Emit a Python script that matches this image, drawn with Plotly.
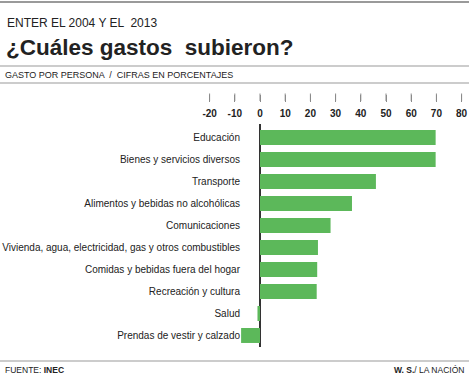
import plotly.graph_objects as go

categories = [
    "Educación",
    "Bienes y servicios diversos",
    "Transporte",
    "Alimentos y bebidas no alcohólicas",
    "Comunicaciones",
    "Vivienda, agua, electricidad, gas y otros combustibles",
    "Comidas y bebidas fuera del hogar",
    "Recreación y cultura",
    "Salud",
    "Prendas de vestir y calzado",
]
values = [69.7, 69.7, 46.0, 36.5, 28.0, 23.0, 22.7, 22.5, -1.0, -7.5]
tick_vals = [-20, -10, 0, 10, 20, 30, 40, 50, 60, 70, 80]

W, H = 469, 378
L, R, T, B = 197, 0, 90, 31
pw, ph = W - L - R, H - T - B
SCALE = 2.52
X_MIN = -25
X_MAX = X_MIN + pw / SCALE

def px(x):
    return (x - L) / pw

def py(y):
    return (H - B - y) / ph

def xpaper(v):
    return (v - X_MIN) / (X_MAX - X_MIN)

GREEN = "#5cb85a"
LABEL_FONT = "Liberation Sans Narrow, Arial Narrow, Liberation Sans, Arial, sans-serif"
MAIN_FONT = "Liberation Sans, Arial, Helvetica, sans-serif"

fig = go.Figure(
    go.Bar(
        x=values,
        y=categories,
        orientation="h",
        marker=dict(color=GREEN, line=dict(width=0)),
        width=0.68,
        hoverinfo="x+y",
    )
)

fig.update_layout(
    width=W,
    height=H,
    margin=dict(l=L, r=R, t=T, b=B, autoexpand=False),
    paper_bgcolor="white",
    plot_bgcolor="white",
    showlegend=False,
    xaxis=dict(
        range=[X_MIN, X_MAX],
        anchor="free",
        position=py(94),
        side="bottom",
        tickvals=tick_vals,
        ticktext=[str(v) for v in tick_vals],
        ticks="outside",
        ticklen=7,
        tickwidth=1,
        tickcolor="#8a8a8a",
        ticklabelstandoff=3,
        tickfont=dict(family=MAIN_FONT, size=10, color="#222222", weight="bold"),
        showgrid=False,
        showline=False,
        zeroline=True,
        zerolinecolor="#333333",
        zerolinewidth=1.5,
        automargin=False,
        fixedrange=True,
    ),
    yaxis=dict(
        categoryorder="array",
        categoryarray=categories,
        range=[9.523, -0.614],
        domain=[0, py(124)],
        anchor="free",
        position=px(240),
        showgrid=False,
        showline=False,
        zeroline=False,
        ticks="",
        tickfont=dict(family=LABEL_FONT, size=10, color="#222222"),
        automargin=False,
        fixedrange=True,
    ),
)

# small tick marks above the tick labels
for tv in tick_vals:
    fig.add_shape(type="line", xref="paper", yref="paper",
                  x0=xpaper(tv), x1=xpaper(tv), y0=py(93.5), y1=py(101),
                  line=dict(color="#8a8a8a", width=1))

rules = [(2, "#9a9a9a", 2), (66, "#9a9a9a", 1.2), (83, "#9a9a9a", 1.2), (361, "#9a9a9a", 1.2)]
for y, c, w in rules:
    fig.add_shape(type="line", xref="paper", yref="paper",
                  x0=px(0), x1=px(W), y0=py(y), y1=py(y),
                  line=dict(color=c, width=w))

annos = [
    dict(text="ENTER EL 2004 Y EL  2013", x=px(5), y=py(23), size=12, anchor="left"),
    dict(text="<b>¿Cuáles gastos  subieron?</b>", x=px(4), y=py(48), size=22.5, anchor="left"),
    dict(text="GASTO POR PERSONA  /  CIFRAS EN PORCENTAJES", x=px(3), y=py(75), size=9, anchor="left"),
    dict(text="FUENTE: <b>INEC</b>", x=px(3), y=py(369.5), size=8.5, anchor="left"),
    dict(text="<b>W. S.</b>/ LA NACIÓN", x=px(466), y=py(369.5), size=8.5, anchor="right"),
]
for a in annos:
    fig.add_annotation(
        text=a["text"], x=a["x"], y=a["y"], xref="paper", yref="paper",
        xanchor=a["anchor"], yanchor="middle", showarrow=False,
        font=dict(family=MAIN_FONT, size=a["size"], color="#222222"),
    )

fig.write_html(
    "out.html",
    config={"displayModeBar": False},
    post_script="document.body.style.margin='0';document.body.style.padding='0';",
)
